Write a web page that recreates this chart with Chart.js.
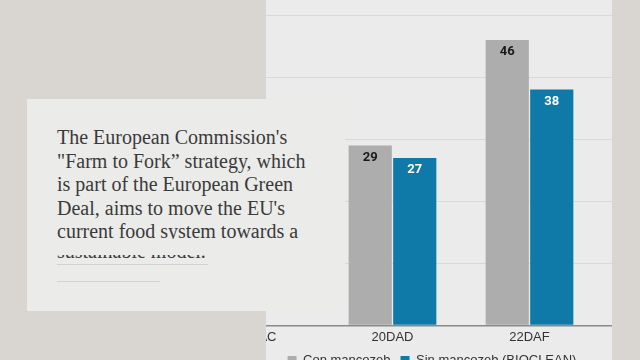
<!DOCTYPE html>
<html><head><meta charset="utf-8">
<script src="https://cdn.jsdelivr.net/npm/chart.js@4.4.1/dist/chart.umd.min.js"></script>
<style>
html,body{margin:0;padding:0;width:640px;height:360px;overflow:hidden;background:#d9d6d2;}
#panel{position:absolute;left:266px;top:0;width:346px;height:360px;overflow:hidden;background:#ebebeb;}
#c{position:absolute;left:-79px;top:-47px;}
#box{position:absolute;left:27px;top:99px;width:318px;height:212px;background:#ebebea;}
.txt{position:absolute;left:30px;top:27px;height:113px;overflow:hidden;font-family:"Liberation Serif","Times New Roman",serif;font-size:20px;line-height:23.6px;color:#3a3a3a;white-space:nowrap;}
.clipline{position:absolute;left:30px;top:156px;height:3px;width:260px;overflow:hidden;}
.clipline span{position:absolute;left:0;top:-15.8px;font-family:"Liberation Serif","Times New Roman",serif;font-size:20px;line-height:24px;color:#3a3a3a;white-space:nowrap;}
.rule{position:absolute;left:30px;height:1px;background:#d2d2d2;}
</style></head>
<body>
<div id="panel"><canvas id="c" width="490" height="424" style="width:490px;height:424px"></canvas></div>
<div id="box">
  <div class="txt">The European Commission's<br>"Farm to Fork” strategy, which<br>is part of the European Green<br>Deal, aims to move the EU's<br>current food system towards a</div>
  <div class="clipline"><span>sustainable model.</span></div>
  <div class="rule" style="top:165px;width:151px;"></div>
  <div class="rule" style="top:182px;width:103px;"></div>
</div>
<script>
const categories = ["18DAC", "20DAD", "22DAF"];
const seriesNames = ["Con mancozeb", "Sin mancozeb (BIOCLEAN)"];
const conMancozeb = [null, 29, 46];
const sinMancozeb = [null, 27, 38];
const seriesColors = ["#adadad", "#0f79a7"];
const labelColors = ["#1a1a1a", "#ffffff"];

const valueLabels = {
  id: 'valueLabels',
  afterDatasetsDraw(chart) {
    const ctx = chart.ctx;
    chart.data.datasets.forEach((ds, i) => {
      const meta = chart.getDatasetMeta(i);
      meta.data.forEach((bar, j) => {
        const v = ds.data[j];
        if (v == null) return;
        ctx.save();
        ctx.font = 'bold 13px Roboto, "Liberation Sans", Arial, sans-serif';
        ctx.fillStyle = labelColors[i];
        ctx.textAlign = 'center';
        ctx.textBaseline = 'middle';
        ctx.fillText(String(v), bar.x, bar.y + 12);
        ctx.restore();
      });
    });
  }
};

const sansFont = { family: '"Liberation Sans", Arial, sans-serif', size: 13 };

new Chart(document.getElementById('c'), {
  type: 'bar',
  data: {
    labels: categories,
    datasets: [
      { label: seriesNames[0], data: conMancozeb, backgroundColor: seriesColors[0], categoryPercentage: 0.65, barPercentage: 0.97 },
      { label: seriesNames[1], data: sinMancozeb, backgroundColor: seriesColors[1], categoryPercentage: 0.65, barPercentage: 0.97 }
    ]
  },
  options: {
    responsive: false,
    animation: false,
    layout: { padding: 0 },
    plugins: {
      legend: {
        position: 'bottom',
        labels: { boxWidth: 9, boxHeight: 9, padding: 10, color: '#333333', font: sansFont }
      },
      tooltip: { enabled: false }
    },
    scales: {
      x: {
        grid: { display: false, drawTicks: true, tickLength: 5.5 },
        border: { display: false },
        ticks: { padding: 0, color: '#333333', font: { family: sansFont.family, size: 13, lineHeight: 1.0 } }
      },
      y: {
        position: 'right',
        min: 0, max: 60,
        ticks: { display: false, stepSize: 10 },
        border: { display: false },
        grid: {
          color: c => (c.tick && c.tick.value === 0) ? '#8a8a8a' : '#d9d9d9',
          lineWidth: c => (c.tick && c.tick.value === 0) ? 1.5 : 1,
          drawTicks: true,
          tickLength: 79
        }
      }
    }
  },
  plugins: [valueLabels]
});
</script>
</body></html>
